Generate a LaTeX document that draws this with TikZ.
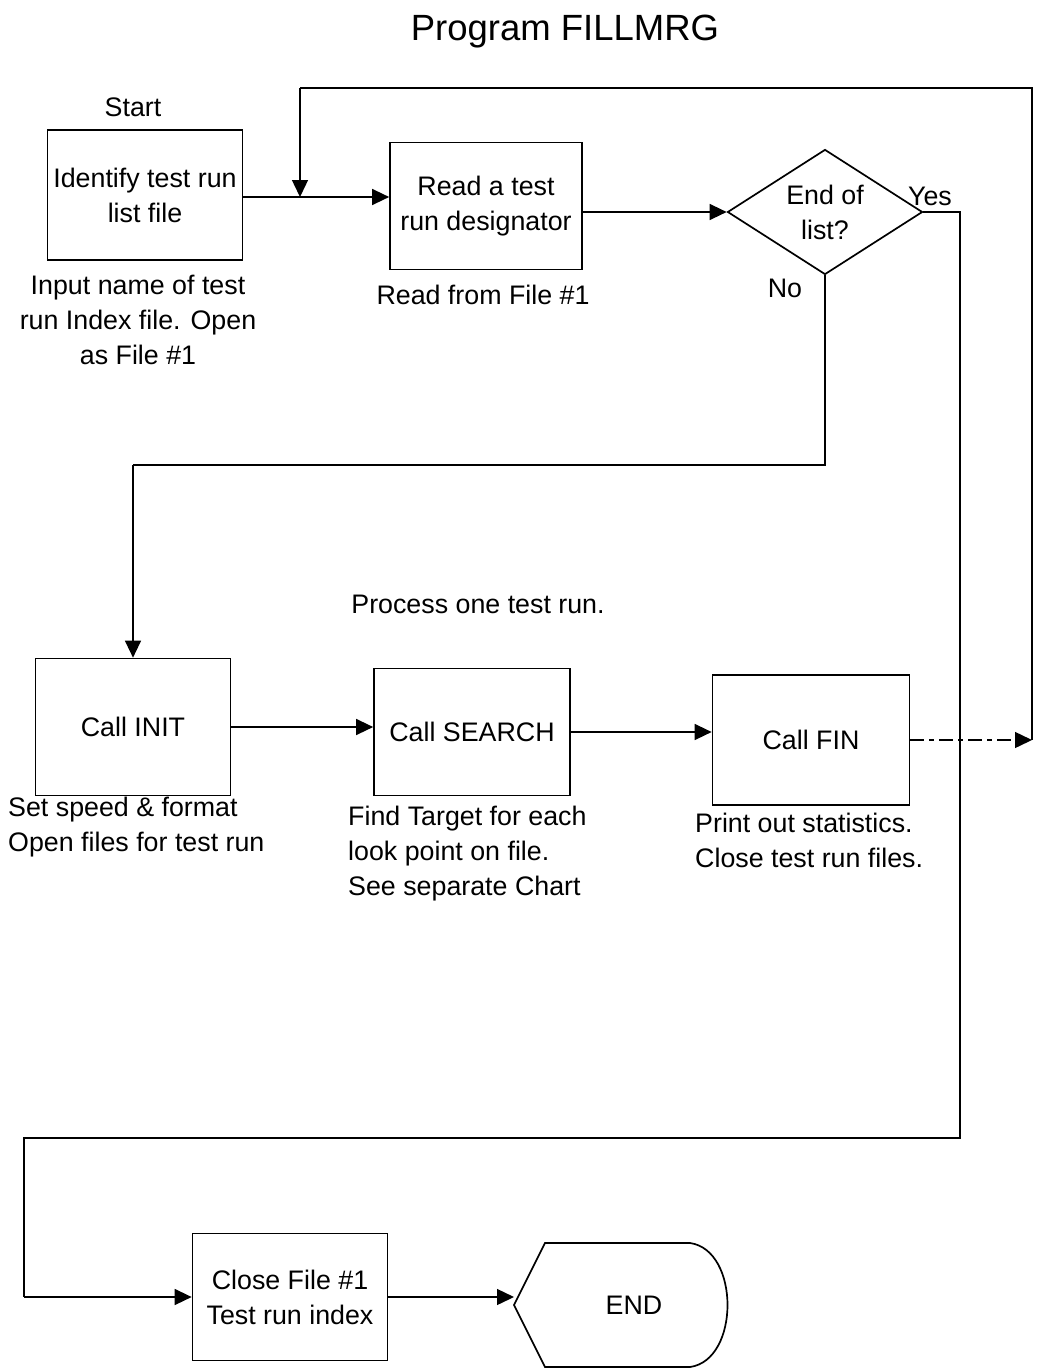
\documentclass[tikz,border=0pt]{standalone}
\usepackage{fontspec}
\setmainfont{Liberation Sans}
\usetikzlibrary{arrows.meta,shapes.geometric}
\begin{document}
\begin{tikzpicture}[x=1pt,y=-1pt,
  txt/.style={font=\fontsize{26.8}{35}\selectfont, align=center, inner sep=0pt},
  note/.style={font=\fontsize{26.8}{35}\selectfont, align=left, inner sep=0pt, anchor=north west},
  procbox/.style={draw, line width=1.7pt, minimum width=195pt, minimum height=128pt, txt},
  decis/.style={draw, line width=1.7pt, diamond, aspect=1.56, minimum width=195pt, minimum height=125pt, inner sep=0pt, txt},
  conn/.style={line width=1.4pt},
  arr/.style={conn, -{Triangle[length=17pt,width=16pt]}}
]
\useasboundingbox (0,0) rectangle (1038,1370);

% title and free labels
\node[font=\fontsize{36.5}{40}\selectfont, inner sep=0pt] (title) at (565,32) {Program FILLMRG};
\node[txt] (start) at (133,107) {Start};
\node[txt] (procone) at (478,604) {Process one test run.};

% boxes
\node[procbox, minimum height=130pt] (A) at (145,195) {Identify test run\\list file};
\node[procbox, minimum width=192pt, minimum height=127pt] (B) at (486,206) {Read a test\\run designator};
\node[decis] (D) at (825,212) {End of\\list?};
\node[procbox, minimum height=137pt] (INIT) at (133,727) {Call INIT};
\node[procbox, minimum width=196pt, minimum height=127pt] (SEARCH) at (472,732) {Call SEARCH};
\node[procbox, minimum width=197pt, minimum height=130pt] (FIN) at (811,740) {Call FIN};
\node[procbox, minimum height=127pt] (CLOSE) at (290,1297) {Close File \#1\\Test run index};

% END terminator
\node[txt] (END) at (634,1305) {END};
\draw[line width=1.7pt] (514,1305) -- (545,1243) -- (690,1243)
  .. controls (740,1250) and (740,1360) .. (690,1367) -- (545,1367) -- cycle;
\coordinate (endtip) at (514,1305);

% annotations
\node[txt] (noteA) at (138,320) {Input name of test\\run Index file. Open\\as File \#1};
\node[txt] (noteB) at (483,295) {Read from File \#1};
\node[txt] (yes) at (930,196) {Yes};
\node[txt] (no) at (785,288) {No};
\node[note] (noteINIT) at (8,797) {Set speed \& format\\Open files for test run};
\node[note] (noteSEARCH) at (348,806) {Find Target for each\\look point on file.\\See separate Chart};
\node[note] (noteFIN) at (695,813) {Print out statistics.\\Close test run files.};

% coordinates for routing
\coordinate (J) at (300,197);
\coordinate (R1) at (1032,740);
\coordinate (R2) at (1032,88);
\coordinate (T1) at (300,88);
\coordinate (Y1) at (960,212);
\coordinate (Y2) at (960,1138);
\coordinate (Y3) at (24,1138);
\coordinate (Y4) at (24,1297);
\coordinate (N1) at (825,465);
\coordinate (N2) at (133,465);

% connectors
\draw[arr] (A.east |- J) -- (B.west |- J);
\draw[arr] (B.east |- D.west) -- (D.west);
\draw[conn] (D.east) -- (Y1) -- (Y2) -- (Y3) -- (Y4);
\draw[arr] (Y4) -- (CLOSE.west);
\draw[conn] (D.south) -- (N1) -- (N2);
\draw[arr] (N2) -- (INIT.north);
\draw[arr] (INIT.east) -- (INIT.east -| SEARCH.west);
\draw[arr] (SEARCH.east) -- (SEARCH.east -| FIN.west);
\draw[arr, dash pattern=on 14pt off 5pt on 5pt off 5pt] (FIN.east) -- (R1);
\draw[conn] (R1) -- (R2) -- (T1);
\draw[arr] (T1) -- (J);
\draw[arr] (CLOSE.east) -- (CLOSE.east -| endtip);
\end{tikzpicture}
\end{document}
